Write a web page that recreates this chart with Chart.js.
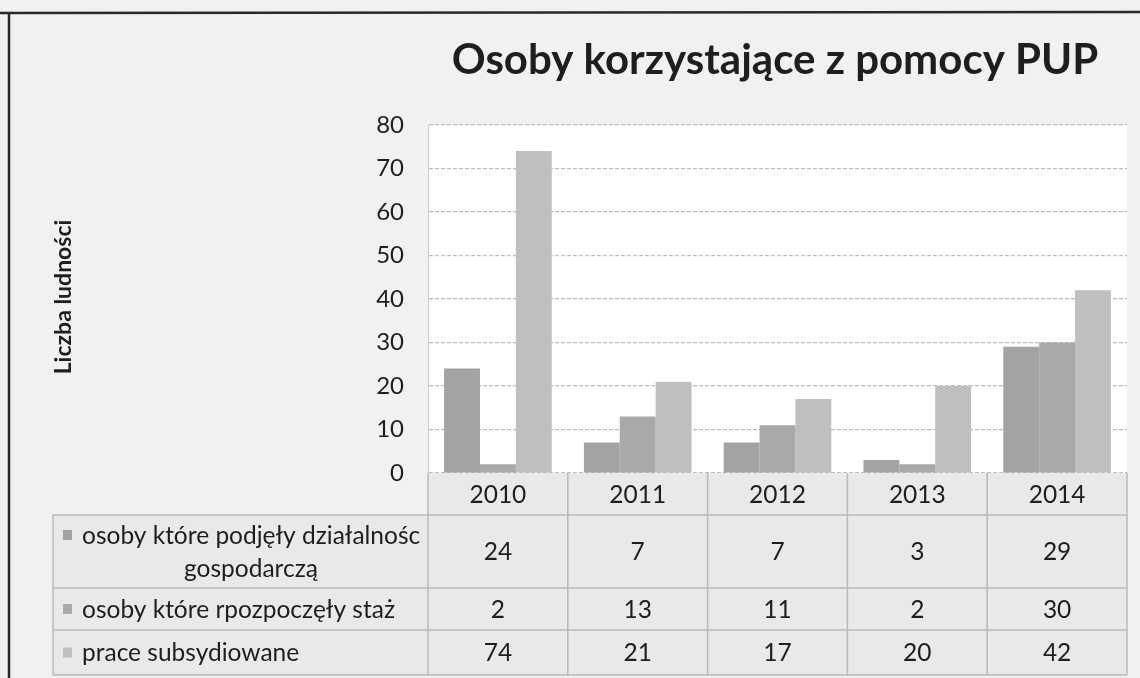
<!DOCTYPE html>
<html>
<head>
<meta charset="utf-8">
<script src="https://cdn.jsdelivr.net/npm/chart.js@4"></script>
<style>
  html, body { margin: 0; padding: 0; background: #f1f1f1; }
  #wrap { width: 1140px; height: 678px; }
</style>
</head>
<body>
<div id="wrap"><canvas id="pupChart" width="1140" height="678"></canvas></div>
<script>
// dane z wykresu
const lata = ['2010', '2011', '2012', '2013', '2014'];
const nazwySerii = [
    ['osoby które podjęły działalnośc', 'gospodarczą'],
    ['osoby które rpozpoczęły staż'],
    ['prace subsydiowane']
];
const dzialalnosc = [24, 7, 7, 3, 29];
const staz = [2, 13, 11, 2, 30];
const subsydiowane = [74, 21, 17, 20, 42];
const kolory = ['#a3a3a3', '#a9a9a9', '#bfbfbf'];

const FONT = 'Lato, "Open Sans", sans-serif';

// tabela danych pod wykresem, tło, tytuł i ramka
const tabelaPlugin = {
    id: 'tabela',
    beforeDraw(chart) {
        const ctx = chart.ctx;
        const a = chart.chartArea;
        ctx.save();
        ctx.fillStyle = '#f1f1f1';
        ctx.fillRect(0, 0, chart.width, chart.height);
        ctx.fillStyle = '#ffffff';
        ctx.fillRect(a.left, a.top, a.right - a.left, a.bottom - a.top);
        ctx.restore();
    },
    afterDraw(chart) {
        const ctx = chart.ctx;
        const x = chart.scales.x;
        const a = chart.chartArea;
        const serie = chart.data.datasets;
        const colW = (x.right - x.left) / lata.length;
        const rows = [a.bottom, 515, 588, 630, 675];
        const tabLeft = 53;

        ctx.save();
        // tło komórek
        ctx.fillStyle = '#e9e9e9';
        ctx.fillRect(x.left, rows[0], x.right - x.left, rows[1] - rows[0]);
        ctx.fillRect(tabLeft, rows[1], x.right - tabLeft, rows[4] - rows[1]);

        // linie
        ctx.strokeStyle = '#b9b9b9';
        ctx.lineWidth = 1.5;
        ctx.beginPath();
        ctx.moveTo(x.left, rows[0]); ctx.lineTo(x.left, rows[4]);
        for (let i = 1; i <= lata.length; i++) {
            ctx.moveTo(x.left + i * colW, rows[0]);
            ctx.lineTo(x.left + i * colW, rows[4]);
        }
        ctx.moveTo(tabLeft, rows[1]); ctx.lineTo(tabLeft, rows[4]);
        ctx.moveTo(x.left, rows[1]); ctx.lineTo(x.right, rows[1]);
        for (let r = 1; r < rows.length; r++) {
            ctx.moveTo(tabLeft, rows[r]); ctx.lineTo(x.right, rows[r]);
        }
        ctx.stroke();

        ctx.fillStyle = '#1e1e1e';
        ctx.textAlign = 'center';
        ctx.textBaseline = 'middle';
        ctx.font = '24.5px ' + FONT;
        lata.forEach((rok, i) => {
            ctx.fillText(rok, x.getPixelForValue(i), (rows[0] + rows[1]) / 2 + 1);
        });

        serie.forEach((ds, s) => {
            const yc = (rows[s + 1] + rows[s + 2]) / 2;
            ds.data.forEach((v, i) => {
                ctx.fillText(String(v), x.getPixelForValue(i), yc + 1);
            });
            // legenda w wierszu
            const linie = nazwySerii[s];
            const lh = 33;
            const y0 = yc - (linie.length - 1) * lh / 2;
            ctx.fillStyle = ds.backgroundColor;
            ctx.fillRect(63, y0 - 5, 9, 10);
            ctx.fillStyle = '#1e1e1e';
            ctx.textAlign = 'left';
            ctx.fillText(linie[0], 82, y0 + 1);
            ctx.textAlign = 'center';
            for (let k = 1; k < linie.length; k++) {
                ctx.fillText(linie[k], 251, y0 + k * lh + 1);
            }
        });

        // tytuł
        ctx.font = 'bold 42px ' + FONT;
        ctx.fillStyle = '#1e1e1e';
        ctx.textAlign = 'center';
        ctx.fillText('Osoby korzystające z pomocy PUP', 775, 60);

        // tytuł osi Y
        ctx.save();
        ctx.translate(64, 297);
        ctx.rotate(-Math.PI / 2);
        ctx.font = 'bold 23px ' + FONT;
        ctx.fillText('Liczba ludności', 0, 0);
        ctx.restore();

        // ramka slajdu
        ctx.strokeStyle = '#2a2a2a';
        ctx.lineWidth = 2.5;
        ctx.beginPath();
        ctx.moveTo(0, 13); ctx.lineTo(chart.width, 12);
        ctx.moveTo(9, 13); ctx.lineTo(9, chart.height);
        ctx.stroke();
        ctx.restore();
    }
};

const ctx1 = document.getElementById('pupChart').getContext('2d');
new Chart(ctx1, {
    type: 'bar',
    data: {
        labels: lata,
        datasets: [{
            label: nazwySerii[0].join(' '),
            data: dzialalnosc,
            backgroundColor: kolory[0]
        }, {
            label: nazwySerii[1].join(' '),
            data: staz,
            backgroundColor: kolory[1]
        }, {
            label: nazwySerii[2].join(' '),
            data: subsydiowane,
            backgroundColor: kolory[2]
        }]
    },
    options: {
        responsive: false,
        animation: false,
        layout: {
            padding: { top: 125, right: 13, bottom: 205, left: 0 }
        },
        datasets: {
            bar: { categoryPercentage: 0.77, barPercentage: 1 }
        },
        scales: {
            x: {
                display: false
            },
            y: {
                min: 0,
                max: 80,
                afterFit: function (scale) { scale.width = 428; },
                ticks: {
                    stepSize: 10,
                    padding: 24,
                    color: '#1e1e1e',
                    font: { family: FONT, size: 24 }
                },
                grid: {
                    color: '#bdbdbd',
                    lineWidth: 1.2,
                    drawTicks: false
                },
                border: { display: true, color: '#cccccc', dash: [4, 2] }
            }
        },
        plugins: {
            legend: { display: false },
            title: { display: false },
            tooltip: { enabled: false }
        }
    },
    plugins: [tabelaPlugin]
});
</script>
</body>
</html>
